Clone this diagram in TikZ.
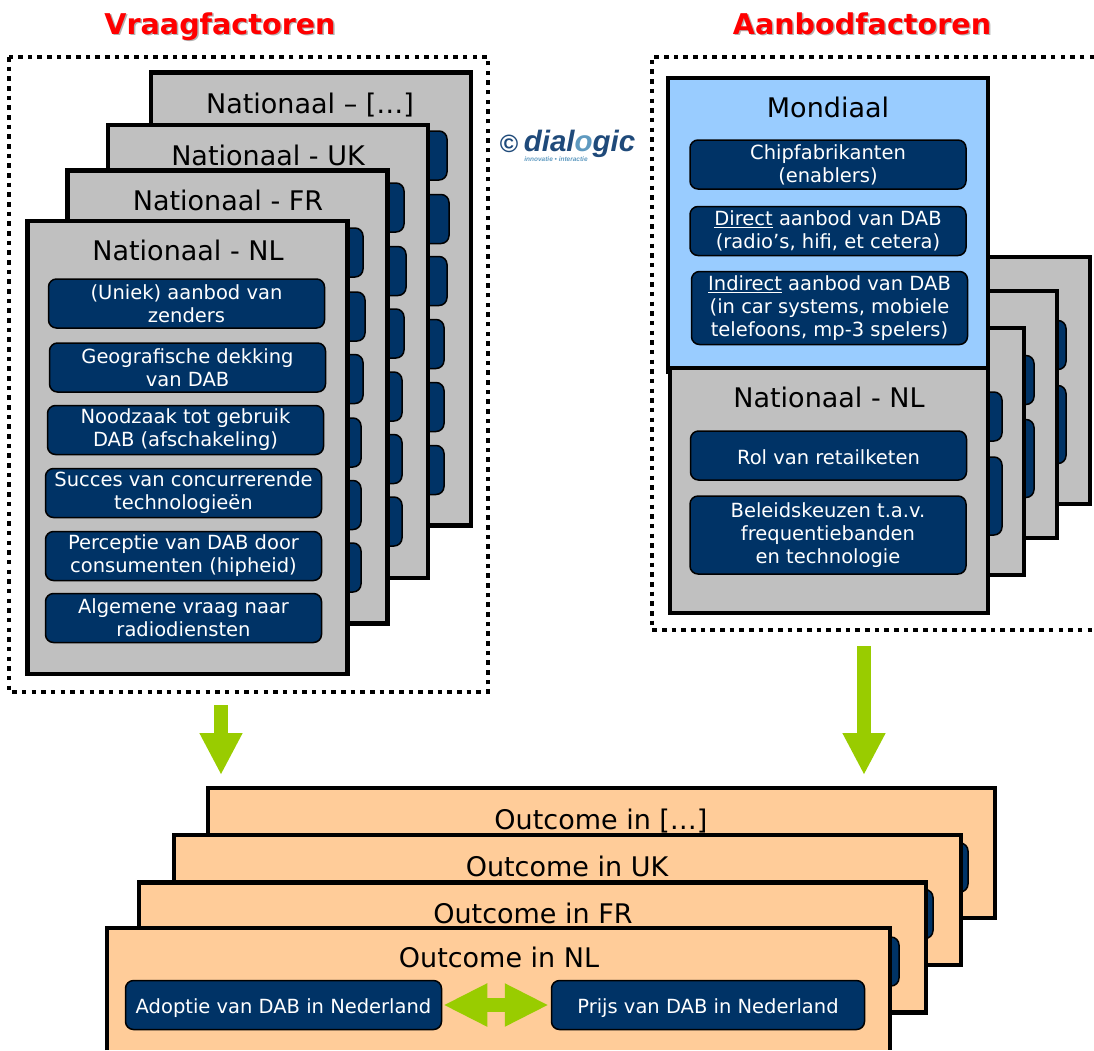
\documentclass[tikz,border=0pt]{standalone}
\usepackage{fontspec}
\setmainfont{DejaVu Sans}
\newfontfamily\logofont{Liberation Sans}
\usepackage{tikz}
\usetikzlibrary{arrows.meta}
\definecolor{vakblauw}{HTML}{003366}
\definecolor{kaartgrijs}{HTML}{C0C0C0}
\definecolor{kaartblauw}{HTML}{99CCFF}
\definecolor{kaartoranje}{HTML}{FFCC99}
\definecolor{pijlgroen}{HTML}{99CC00}
\definecolor{logoblauw}{HTML}{1F4A7A}
\definecolor{logolicht}{HTML}{5F9AC0}
\tikzset{
    kaart/.style={draw=black, line width=4.5pt, fill=kaartgrijs, minimum width=320pt, minimum height=453pt},
    aanbodkaart/.style={kaart, minimum height=247pt},
    outcomekaart/.style={kaart, fill=kaartoranje, minimum width=787pt, minimum height=130pt},
    kaarttitel/.style={anchor=base, text=black, font=\fontsize{27}{30}\selectfont},
    vak/.style={draw=black, line width=1.5pt, fill=vakblauw, rounded corners=8pt, text=white, align=center,
        inner sep=0pt, minimum width=276pt, minimum height=49pt, font=\fontsize{19.5}{23}\selectfont,
        execute at begin node=\rule{0pt}{18pt}},
    titel/.style={anchor=base, text=red, font=\fontsize{28.6}{30}\selectfont\bfseries},
    titelschaduw/.style={titel, text=black!30},
    stippelkader/.style={draw=black, line width=4.5pt, dash pattern=on 4.5pt off 5.17pt},
    pijl/.style={draw=pijlgroen, line width=14pt, -{Triangle[length=42pt,width=40pt]}},
}
\begin{document}
\begin{tikzpicture}[x=1pt, y=-1pt]
            \useasboundingbox (0,0) rectangle (1094,1050);
            \node[titelschaduw] (vraagschaduw) at (221.5,35.5) {Vraagfactoren};
            \node[titelschaduw] (aanbodschaduw) at (863.5,35.5) {Aanbodfactoren};
            \node[titel] (vraagtitel) at (220,34) {Vraagfactoren};
            \node[titel] (aanbodtitel) at (862,34) {Aanbodfactoren};
            \draw[stippelkader] (9,57) rectangle (488,692);
            \draw[stippelkader] (1094,57) -- (652,57) -- (652,630) -- (1094,630);

            \node[kaart] (restkaart) at (311,299) {};
            \node[kaarttitel] (resttitel) at (310,113) {Nationaal – […]};
            \node[vak] (rest1) at (309,155.5) {};
            \node[vak] (rest2) at (311,219) {};
            \node[vak] (rest3) at (309,281) {};
            \node[vak] (rest4) at (306,344) {};
            \node[vak] (rest5) at (306,407) {};
            \node[vak] (rest6) at (306,470) {};

            \node[kaart] (ukkaart) at (268,351.5) {};
            \node[kaarttitel] (uktitel) at (268,165) {Nationaal - UK};
            \node[vak] (uk1) at (266,207.5) {};
            \node[vak] (uk2) at (268,271) {};
            \node[vak] (uk3) at (266,333.5) {};
            \node[vak] (uk4) at (264,396.5) {};
            \node[vak] (uk5) at (264,459) {};
            \node[vak] (uk6) at (264,521.5) {};

            \node[kaart] (frkaart) at (227.5,397) {};
            \node[kaarttitel] (frtitel) at (228,210) {Nationaal - FR};
            \node[vak] (fr1) at (225,252.5) {};
            \node[vak] (fr2) at (227,316.5) {};
            \node[vak] (fr3) at (225,379) {};
            \node[vak] (fr4) at (223,442.5) {};
            \node[vak] (fr5) at (223,505) {};
            \node[vak] (fr6) at (223,567.5) {};

            \node[kaart] (nlkaart) at (187.5,447.5) {};
            \node[kaarttitel] (nltitel) at (188,260) {Nationaal - NL};
            \node[vak] (nl1) at (186.5,303.5) {(Uniek) aanbod van\\zenders};
            \node[vak] (nl2) at (187.5,367.5) {Geografische dekking\\van DAB};
            \node[vak] (nl3) at (185.5,430) {Noodzaak tot gebruik\\DAB (afschakeling)};
            \node[vak] (nl4) at (183.5,493) {Succes van concurrerende\\technologieën};
            \node[vak] (nl5) at (183.5,556) {Perceptie van DAB door\\consumenten (hipheid)};
            \node[vak] (nl6) at (183.5,618) {Algemene vraag naar\\radiodiensten};

            \node[anchor=base, inner sep=0pt, text=logoblauw, font=\logofont\fontsize{25}{25}\selectfont\bfseries] (logoteken) at (509,152) {©};
            \node[anchor=base, inner sep=0pt, text=logoblauw, font=\logofont\fontsize{29.5}{29}\selectfont\bfseries\itshape] (logonaam) at (579.5,151) {dial\textcolor{logolicht}{o}gic};
            \node[anchor=base, inner sep=0pt, text=logolicht, font=\logofont\fontsize{6.5}{7}\selectfont\bfseries\itshape] (logoregel) at (556,161) {innovatie • interactie};

            \node[aanbodkaart] (aanbod3) at (930,380.5) {};
            \node[vak] (aanbod3a) at (928,345) {};
            \node[vak, minimum height=78pt] (aanbod3b) at (928,424.5) {};
            \node[aanbodkaart] (aanbod2) at (897,414.5) {};
            \node[vak] (aanbod2a) at (896,380) {};
            \node[vak, minimum height=78pt] (aanbod2b) at (896,458.5) {};
            \node[aanbodkaart] (aanbod1) at (864,451.5) {};
            \node[vak] (aanbod1a) at (864,416.5) {};
            \node[vak, minimum height=78pt] (aanbod1b) at (864,496) {};

            \node[kaart, fill=kaartblauw, minimum height=294pt] (mondkaart) at (828,225) {};
            \node[kaarttitel] (mondtitel) at (828,117) {Mondiaal};
            \node[vak] (mond1) at (828,164.5) {Chipfabrikanten\\(enablers)};
            \node[vak] (mond2) at (828,231) {\underline{Direct} aanbod van DAB\\\rule{0pt}{19pt}(radio’s, hifi, et cetera)};
            \node[vak, minimum height=73pt] (mond3) at (829.5,308) {\underline{Indirect} aanbod van DAB\\(in car systems, mobiele\\telefoons, mp-3 spelers)};

            \node[aanbodkaart, minimum width=318pt, minimum height=245pt] (natkaart) at (829,490.5) {};
            \node[kaarttitel] (nattitel) at (829,407) {Nationaal - NL};
            \node[vak] (nat1) at (828.5,455.5) {Rol van retailketen};
            \node[vak, minimum height=78pt] (nat2) at (828,535) {Beleidskeuzen t.a.v.\\frequentiebanden\\en technologie};

            \coordinate (vraagstart) at (221,705);
            \coordinate (vraageind) at (221,775);
            \coordinate (aanbodstart) at (864,646);
            \coordinate (aanbodeind) at (864,775);
            \draw[pijl] (vraagstart) -- (vraageind);
            \draw[pijl] (aanbodstart) -- (aanbodeind);

            \node[outcomekaart] (outrest) at (601.5,853) {};
            \node[kaarttitel] (outresttitel) at (601,829) {Outcome in […]};
            \node[vak, minimum width=312pt] (outrestvak) at (812,867.5) {};
            \node[outcomekaart] (outuk) at (567.5,900) {};
            \node[kaarttitel] (outuktitel) at (567,876) {Outcome in UK};
            \node[vak, minimum width=312pt] (outukvak) at (777,914) {};
            \node[outcomekaart] (outfr) at (532.5,947.5) {};
            \node[kaarttitel] (outfrtitel) at (533,923) {Outcome in FR};
            \node[vak, minimum width=312pt] (outfrvak) at (743,961.5) {};

            \fill[kaartoranje] (107,928) rectangle (890,1050);
            \draw[line width=4.5pt, black] (107,1050) -- (107,928) -- (890,928) -- (890,1050);
            \node[kaarttitel] (outnltitel) at (499,967) {Outcome in NL};
            \node[vak, minimum width=316pt] (adoptie) at (283.5,1005) {\rule{0pt}{22pt}Adoptie van DAB in Nederland};
            \node[vak, minimum width=313pt] (prijs) at (708,1005) {\rule{0pt}{22pt}Prijs van DAB in Nederland};
            \draw[pijlgroen, line width=14pt, {Triangle[length=44pt,width=40pt]}-{Triangle[length=44pt,width=40pt]}, shorten <=1pt, shorten >=2pt] (adoptie) -- (prijs);
        \end{tikzpicture}
\end{document}
